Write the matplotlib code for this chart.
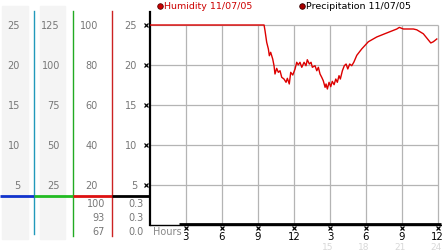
import matplotlib
matplotlib.use("Agg")
import matplotlib.pyplot as plt
from matplotlib.lines import Line2D
from matplotlib.patches import Rectangle

# ---------------- data ----------------
hum_hours = [0, 9.52, 9.60, 9.74, 9.88, 9.96, 10.07, 10.24, 10.35, 10.43, 10.57, 10.71,
             10.85, 10.99, 11.18, 11.35, 11.46, 11.62, 11.74, 11.91, 12.10, 12.24, 12.37,
             12.51, 12.66, 12.85, 13.01, 13.12, 13.29, 13.43, 13.54, 13.76, 13.91, 14.04,
             14.18, 14.32, 14.45, 14.60, 14.68, 14.79, 14.93, 15.07, 15.20, 15.35, 15.49,
             15.62, 15.76, 15.87, 16.04, 16.20, 16.35, 16.49, 16.65, 16.82, 16.99, 17.24,
             17.65, 18.20, 18.90, 19.73, 20.57, 20.78, 21.12, 21.95, 22.23, 22.78, 23.40,
             23.61, 23.90]
hum_values = [25, 25, 24.29, 22.83, 21.99, 21.15, 21.58, 20.74, 19.90, 18.86, 19.57, 19.07,
              19.27, 18.45, 18.23, 17.82, 18.32, 17.61, 19.07, 18.73, 19.49, 20.33, 20.0,
              20.33, 19.70, 20.33, 19.90, 20.65, 20.11, 20.33, 19.70, 19.90, 19.27, 19.70,
              18.86, 18.45, 18.02, 17.19, 17.61, 16.98, 17.82, 17.27, 17.94, 17.52, 18.23,
              17.82, 18.65, 18.23, 19.27, 19.90, 20.11, 19.49, 20.11, 19.90, 20.33, 21.2,
              22.0, 22.9, 23.5, 24.0, 24.5, 24.7, 24.5, 24.5, 24.4, 23.9, 22.75,
              22.9, 23.25]
precip_hours = [2.45, 24.25]
precip_values = [0, 0]

hour_ticks = [3, 6, 9, 12, 15, 18, 21, 24]
hour_labels = ["3", "6", "9", "12", "3", "6", "9", "12"]
hour_labels2 = ["15", "18", "21", "24"]
y_ticks = [5, 10, 15, 20, 25]

col1_labels = ["5", "10", "15", "20", "25"]
col2_labels = ["25", "50", "75", "100", "125"]
col3_labels = ["20", "40", "60", "80", "100"]
col4_labels = ["5", "10", "15", "20", "25"]
col3_low = ["100", "93", "67"]
col4_low = ["0.3", "0.3", "0.0"]

legend_labels = ["Humidity 11/07/05", "Precipitation 11/07/05"]

# ---------------- figure ----------------
W, H = 442, 253
fig = plt.figure(figsize=(W / 100, H / 100), dpi=100)
plt.rcParams['font.family'] = ['DejaVu Sans']

def fx(px):
    return px / W

def fy(py):
    return 1 - py / H

# main axes: x 0..24.3 from px 149.7 to 441.6 ; y 0..26.6 from py 225.5 to 13
ax = fig.add_axes([fx(149.7), fy(225.5), fx(441.6) - fx(149.7), fy(13) - fy(225.5)])
ax.set_xlim(0, 24.3)
ax.set_ylim(0, 26.63)
for s in ["top", "right"]:
    ax.spines[s].set_visible(False)
ax.spines["left"].set_linewidth(1.6)
ax.spines["bottom"].set_linewidth(1.0)
ax.spines["left"].set_color("black")
ax.spines["bottom"].set_color("black")
ax.set_xticks([])
ax.set_yticks([])

gray = "#b4b4b4"
ax.hlines(y_ticks, 0, 24, color=gray, lw=0.9, zorder=1)
ax.vlines(hour_ticks, 0, 25, color=gray, lw=0.9, zorder=1)

ax.plot(hum_hours, hum_values, color="#dd0000", lw=1.0, zorder=3)
ax.plot(precip_hours, [v + 0.07 for v in precip_values], color="black", lw=2.0,
        zorder=4, clip_on=False, solid_capstyle="butt")

# y tick marks (small crosses)
ax.plot([-0.28] * len(y_ticks), y_ticks, linestyle="none", marker="x", markersize=2.6,
        markeredgewidth=0.9, color="black", clip_on=False, zorder=5)

# x tick marks and labels
ax.plot(hour_ticks, [-0.48] * len(hour_ticks), linestyle="none", marker="x", markersize=2.6,
        markeredgewidth=0.9, color="black", clip_on=False, zorder=5)
for h, lab in zip(hour_ticks, hour_labels):
    ax.text(h - (0.08 if h == 24 else 0), -1.38, lab, ha="center", va="center", fontsize=7.3,
            color="black", clip_on=False)
for h, lab in zip(hour_ticks[4:], hour_labels2):
    ax.text(h - 0.15, -2.7, lab, ha="center", va="center", fontsize=6.5, color="#d8d8d8",
            clip_on=False)
fig.text(fx(153), fy(232), "Hours", ha="left", va="center", fontsize=7, color="#888888")

# ---------------- left scale panels ----------------
fig.patches.append(Rectangle((fx(2), fy(240)), fx(28) - fx(2), fy(7) - fy(240),
                             transform=fig.transFigure, color="#f4f4f4", zorder=0))
fig.patches.append(Rectangle((fx(40), fy(240)), fx(65) - fx(40), fy(7) - fy(240),
                             transform=fig.transFigure, color="#f4f4f4", zorder=0))

def vline(x, y0, y1, color):
    fig.lines.append(Line2D([fx(x), fx(x)], [fy(y0), fy(y1)], transform=fig.transFigure,
                            color=color, lw=1.0))

def hline(x0, x1, y, color):
    fig.lines.append(Line2D([fx(x0), fx(x1)], [fy(y), fy(y)], transform=fig.transFigure,
                            color=color, lw=2.0, solid_capstyle="butt"))

vline(33.5, 12, 235, "#2299bb")
vline(72.5, 12, 237, "#22aa22")
vline(111.5, 12, 237, "#cc2222")
hline(0, 33.5, 197, "#1133cc")
hline(33.5, 72.5, 197, "#22bb22")
hline(72.5, 111.5, 197, "#dd1111")
hline(111.5, 149.5, 197, "black")

lab_color = "#777777"
ypos = [186, 146, 106, 66, 26]
for labs, xr in [(col1_labels, 20), (col2_labels, 60), (col3_labels, 98), (col4_labels, 137)]:
    for lab, yp in zip(labs, ypos):
        fig.text(fx(xr), fy(yp), lab, ha="right", va="center", fontsize=7, color=lab_color)
for lab, yp in zip(col3_low, [204, 218, 232]):
    fig.text(fx(105), fy(yp), lab, ha="right", va="center", fontsize=7, color=lab_color)
for lab, yp in zip(col4_low, [204, 218, 232]):
    fig.text(fx(144), fy(yp), lab, ha="right", va="center", fontsize=7, color=lab_color)

# ---------------- legend ----------------
fig.lines.append(Line2D([fx(160)], [fy(6.5)], transform=fig.transFigure, marker="o",
                        markersize=4, markerfacecolor="#cc0000", markeredgecolor="#550000",
                        markeredgewidth=0.6, linestyle="none"))
fig.text(fx(164.5), fy(6.5), legend_labels[0], ha="left", va="center", fontsize=6.8,
         color="#cc0000")
fig.lines.append(Line2D([fx(302)], [fy(6.5)], transform=fig.transFigure, marker="o",
                        markersize=4, markerfacecolor="#aa0000", markeredgecolor="#330000",
                        markeredgewidth=0.6, linestyle="none"))
fig.text(fx(306.5), fy(6.5), legend_labels[1], ha="left", va="center", fontsize=6.8,
         color="black")

fig.savefig("out.png", dpi=100)
